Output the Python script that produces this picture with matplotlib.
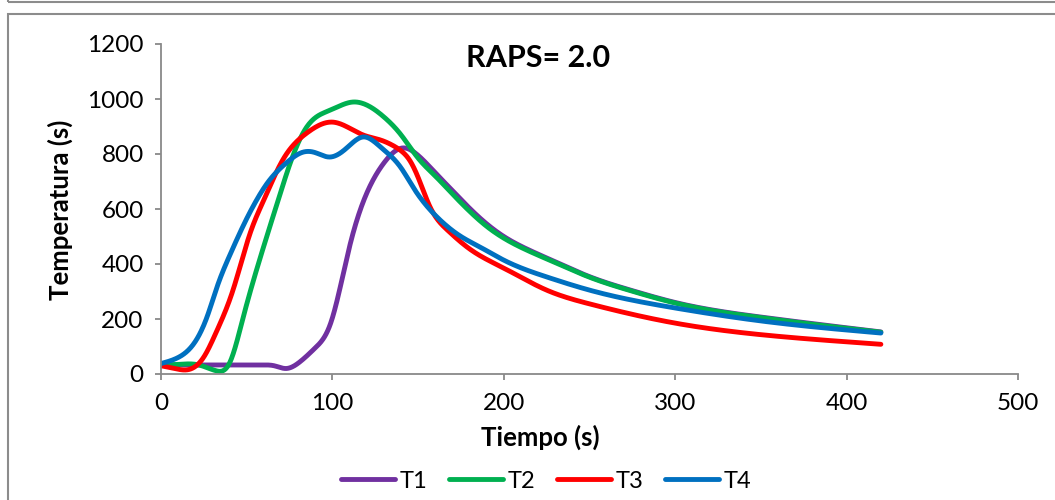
import numpy as np
import matplotlib.pyplot as plt
from matplotlib.patches import Rectangle
from matplotlib.lines import Line2D

plt.rcParams["font.family"] = ["Lato", "DejaVu Sans"]

# values (time in s, temperature)
t1_time = [0, 20, 40, 60, 66, 73, 81, 90, 99, 110, 120, 130, 141, 150, 160, 170, 180,
           190, 200, 215, 230, 250, 275, 300, 350, 400, 420]
t1_temp = [33, 33, 33, 33, 30, 20, 44, 95, 185, 463, 657, 767, 822, 795, 732, 667, 603,
           546, 500, 450, 408, 354, 303, 260, 207, 168, 153]

t2_time = [0, 10, 22, 32, 40, 48, 58, 69, 75, 85, 99, 112, 130, 140, 150, 160, 170, 180,
           190, 200, 215, 230, 250, 275, 300, 350, 400, 420]
t2_temp = [32, 35, 33, 12, 40, 207, 425, 645, 760, 898, 960, 989, 935, 870, 785, 720, 655,
           592, 537, 494, 446, 405, 352, 301, 258, 205, 166, 152]

t3_time = [0, 8, 15, 25, 32, 42, 52, 60, 71, 85, 100, 118, 128, 135, 140, 145, 150, 157,
           167, 180, 200, 225, 250, 300, 350, 400, 420]
t3_temp = [30, 20, 15, 62, 149, 305, 512, 633, 778, 876, 916, 869, 851, 832, 812, 778, 715,
           607, 524, 455, 385, 305, 255, 185, 143, 117, 108]

t4_time = [0, 10, 20, 27, 33, 40, 50, 56, 62, 73, 83, 90, 98, 108, 118, 128, 140, 147, 161,
           175, 186, 200, 225, 250, 300, 350, 400, 420]
t4_temp = [38, 60, 118, 210, 322, 430, 565, 635, 694, 767, 807, 805, 789, 820, 862, 826,
           750, 680, 571, 500, 462, 414, 353, 305, 240, 193, 160, 149]

series_names = ["T1", "T2", "T3", "T4"]
series_colors = ["#7030A0", "#00B050", "#FF0000", "#0070C0"]


def smooth(x, y, n=30):
    # natural cubic spline through the points, like a spreadsheet "smoothed line"
    x = np.asarray(x, float)
    y = np.asarray(y, float)
    k = len(x)
    h = np.diff(x)
    A = np.zeros((k, k))
    r = np.zeros(k)
    A[0, 0] = A[-1, -1] = 1.0
    for i in range(1, k - 1):
        A[i, i - 1] = h[i - 1]
        A[i, i] = 2 * (h[i - 1] + h[i])
        A[i, i + 1] = h[i]
        r[i] = 6 * ((y[i + 1] - y[i]) / h[i] - (y[i] - y[i - 1]) / h[i - 1])
    M = np.linalg.solve(A, r)
    xs, ys = [], []
    for i in range(k - 1):
        u = np.linspace(0, 1, n, endpoint=False)
        a = 1 - u
        seg = (a * y[i] + u * y[i + 1]
               + h[i] ** 2 / 6 * ((a ** 3 - a) * M[i] + (u ** 3 - u) * M[i + 1]))
        xs.extend(x[i] + u * h[i])
        ys.extend(seg)
    xs.append(x[-1])
    ys.append(y[-1])
    return xs, ys


fig = plt.figure(figsize=(10.55, 5.0), dpi=100)
ax = fig.add_axes([161 / 1055, 1 - 374 / 500, (1018 - 161) / 1055, (374 - 44) / 500])

data = [(t1_time, t1_temp), (t2_time, t2_temp), (t3_time, t3_temp), (t4_time, t4_temp)]
for (tx, ty), name, color in zip(data, series_names, series_colors):
    sx, sy = smooth(tx, ty)
    ax.plot(sx, sy, color=color, linewidth=3.5, solid_capstyle="round", label=name)

ax.set_xlim(0, 500)
ax.set_ylim(0, 1200)
ax.set_xticks(range(0, 501, 100))
ax.set_yticks(range(0, 1201, 200))
for side in ["top", "right"]:
    ax.spines[side].set_visible(False)
for side in ["left", "bottom"]:
    ax.spines[side].set_color("#898989")
    ax.spines[side].set_linewidth(1.3)
ax.tick_params(axis="both", direction="out", length=4.5, width=1.3, color="#898989",
               labelsize=17.5)
ax.tick_params(axis="x", pad=9)
ax.tick_params(axis="y", pad=8)

ax.set_xlabel("Tiempo (s)", fontsize=18.5, fontweight="bold")
ax.set_ylabel("Temperatura (s)", fontsize=18.5, fontweight="bold")
ax.xaxis.set_label_coords((540 - 161) / 857, (374 - 437) / 330)
ax.xaxis.label.set_verticalalignment("center")
ax.yaxis.set_label_coords((60 - 161) / 857, 0.497)
ax.yaxis.label.set_verticalalignment("center")

fig.text(538 / 1055, 1 - 58 / 500, "RAPS= 2.0", fontsize=22, fontweight="bold",
         ha="center", va="center")

handles = [Line2D([], [], color=c, linewidth=3.5, solid_capstyle="round") for c in series_colors]
fig.legend(handles, series_names, loc="center", bbox_to_anchor=(546 / 1055, 1 - 481 / 500),
           ncol=4, frameon=False, fontsize=17, handlelength=2.3, handletextpad=0.2,
           columnspacing=0.9)

# chart frames
fig.patches.append(Rectangle((8 / 1055, -0.1), 1.2, 1 - 14 / 500 + 0.1, transform=fig.transFigure,
                             fill=False, edgecolor="#8c8c8c", linewidth=1.5))
fig.patches.append(Rectangle((8 / 1055, 1 - 2 / 500), 1.2, 0.2, transform=fig.transFigure,
                             fill=False, edgecolor="#8c8c8c", linewidth=1.5))

fig.savefig("out.png", dpi=100)
